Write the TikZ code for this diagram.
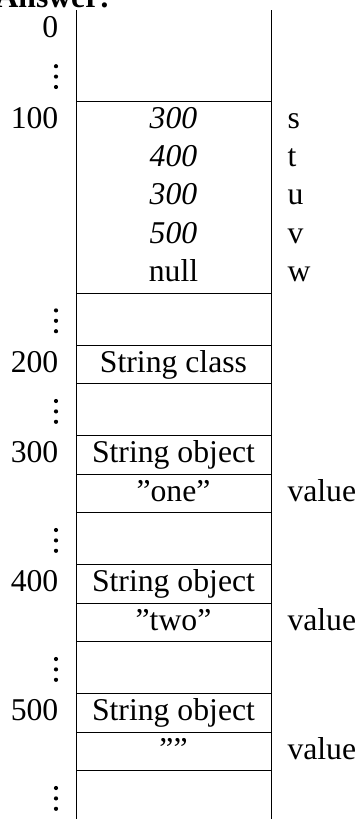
\documentclass[tikz,border=0pt]{standalone}
\usepackage{fontspec}
\setmainfont{Liberation Serif}
\begin{document}
\begin{tikzpicture}[x=1pt,y=-1pt,
  every node/.style={inner sep=0pt, outer sep=0pt, font=\fontsize{31.7}{38.4}\selectfont},
  addr/.style={anchor=base east},
  cell/.style={anchor=base},
  tag/.style={anchor=base west},
  rule/.style={line width=1pt, black},
  dotmark/.style={fill=black, draw=none}]
\useasboundingbox (0,0) rectangle (357,819);

% heading, partly above the page
\node[anchor=base west, font=\fontsize{31.7}{38.4}\selectfont\bfseries] (head) at (-4.5,7) {Answer:};

% memory column
\coordinate (colL) at (76,0);
\coordinate (colR) at (271,0);
\draw[rule] (76,10.4) -- (76,826);
\draw[rule] (271,10.4) -- (271,826);
\foreach \y in {101,293,345.2,383.6,435.8,474.2,512.6,564.8,603.2,641.6,693.8,732.2,770.6}
  \draw[rule] (76,\y) -- (271,\y);

% vertical ellipses in the address column (y = bottom of the gap row)
\foreach \b in {101,345.2,435.8,564.8,693.8,822.8} {
  \fill[dotmark] (56,\b-14) circle (2.1);
  \fill[dotmark] (56,\b-24.4) circle (2.1);
  \fill[dotmark] (56,\b-34.8) circle (2.1);
}

% addresses
\node[addr] (a0)   at (58.3,37.4)  {0};
\node[addr] (a100) at (58.3,128)   {100};
\node[addr] (a200) at (58.3,372.2) {200};
\node[addr] (a300) at (58.3,462.8) {300};
\node[addr] (a400) at (58.3,591.8) {400};
\node[addr] (a500) at (58.3,720.8) {500};

% reference variables
\node[cell] (vs) at (173.5,128)   {\itshape 300};
\node[cell] (vt) at (173.5,166.4) {\itshape 400};
\node[cell] (vu) at (173.5,204.8) {\itshape 300};
\node[cell] (vv) at (173.5,243.2) {\itshape 500};
\node[cell] (vw) at (173.5,281.6) {null};
\node[tag] (ns) at (287.5,128)   {s};
\node[tag] (nt) at (287.5,166.4) {t};
\node[tag] (nu) at (287.5,204.8) {u};
\node[tag] (nv) at (287.5,243.2) {v};
\node[tag] (nw) at (287.5,281.6) {w};

% class and objects
\node[cell] (cls)  at (173.5,372.2) {String class};
\node[cell] (o1)   at (173.5,462.8) {String object};
\node[cell] (o1v)  at (173.5,501.2) {”one”};
\node[tag]  (o1n)  at (287.5,501.2) {value};
\node[cell] (o2)   at (173.5,591.8) {String object};
\node[cell] (o2v)  at (173.5,630.2) {”two”};
\node[tag]  (o2n)  at (287.5,630.2) {value};
\node[cell] (o3)   at (173.5,720.8) {String object};
\node[cell] (o3v)  at (173.5,759.2) {””};
\node[tag]  (o3n)  at (287.5,759.2) {value};
\end{tikzpicture}
\end{document}
